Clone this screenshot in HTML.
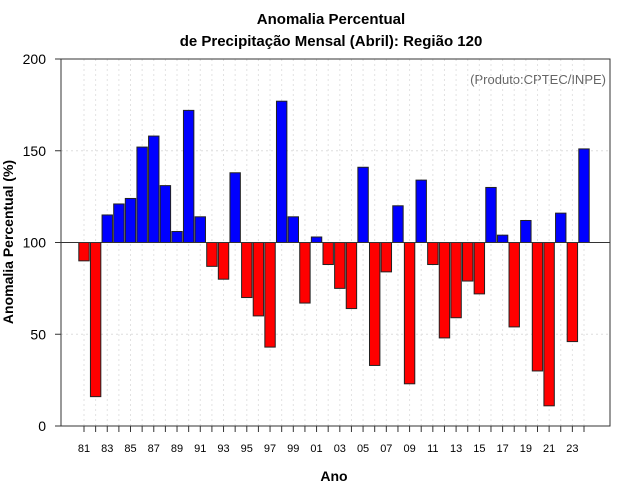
<!DOCTYPE html>
<html><head><meta charset="utf-8"><style>
body{margin:0;background:#fff;font-family:"Liberation Sans",sans-serif}
svg{display:block}
</style></head><body>
<svg id="c" width="640" height="500" xmlns="http://www.w3.org/2000/svg" font-family="Liberation Sans, sans-serif">
<text x="331" y="24" text-anchor="middle" font-size="15" font-weight="bold">Anomalia Percentual</text>
<text x="331" y="46" text-anchor="middle" font-size="15" font-weight="bold">de Precipitação Mensal (Abril): Região 120</text>
<text x="606" y="84" text-anchor="end" font-size="13" fill="#666">(Produto:CPTEC/INPE)</text>
<text x="334" y="481" text-anchor="middle" font-size="14" font-weight="bold">Ano</text>
<text x="13" y="242" text-anchor="middle" font-size="14" font-weight="bold" transform="rotate(-90 13 242)">Anomalia Percentual (%)</text>
<g id="grid"></g><g id="bars"></g><g id="axes"></g>
</svg>
<script>
const years=[];for(let y=1981;y<=2024;y++)years.push(y);
const values=[90,16,115,121,124,152,158,131,106,172,114,87,80,138,70,60,43,177,114,67,103,88,75,64,141,33,84,120,23,134,88,48,59,79,72,130,104,54,112,30,11,116,46,151];
const yTicks=[0,50,100,150,200];
const baseline=100;
const NS="http://www.w3.org/2000/svg";
const L=61,R=610,T=59,B=426;
const yS=v=>B-(v-0)*(B-T)/200;
const xS=i=>84+i*(584-84)/(years.length-1);
function mk(t,a,p){const e=document.createElementNS(NS,t);for(const k in a)e.setAttribute(k,a[k]);p.appendChild(e);return e;}
const g=document.getElementById('grid'),b=document.getElementById('bars'),ax=document.getElementById('axes');
yTicks.forEach(v=>{
 const l=mk('line',{x1:L,x2:R,y1:yS(v),y2:yS(v),stroke:'#ddd','stroke-dasharray':'2,3'},g);
 
 
 const tk=mk('line',{x1:L-6,x2:L,y1:yS(v),y2:yS(v),stroke:'#333'},ax);
 
 
 const t=mk('text',{x:L-15,y:yS(v)+5,'text-anchor':'end','font-size':'14'},ax);t.textContent=v;
 
 
});
years.forEach((y,i)=>{
 const x=xS(i);
 const gl=mk('line',{x1:x,x2:x,y1:T,y2:B,stroke:'#e2e2e2','stroke-dasharray':'2,3'},g);
 
 
 const tk=mk('line',{x1:x,x2:x,y1:B,y2:B+6,stroke:'#333'},ax);
 
 
 if(y%2===1){const t=mk('text',{x:x,y:B+26,'text-anchor':'middle','font-size':'11'},ax);t.textContent=String(y%100).padStart(2,'0');
  
  }
 const v=values[i];const y0=yS(baseline),y1=yS(v);
 const r=mk('rect',{x:x-5.2,y:Math.min(y0,y1),width:10.4,height:Math.abs(y1-y0),fill:v>=baseline?'#0000ff':'#ff0000',stroke:'#222','stroke-width':1},b);
 
 
});
const bl=mk('line',{x1:L,x2:R,y1:yS(baseline),y2:yS(baseline),stroke:'#333'},ax);


const fr=mk('rect',{x:L,y:T,width:R-L,height:B-T,fill:'none',stroke:'#333'},ax);


</script>
</body></html>
